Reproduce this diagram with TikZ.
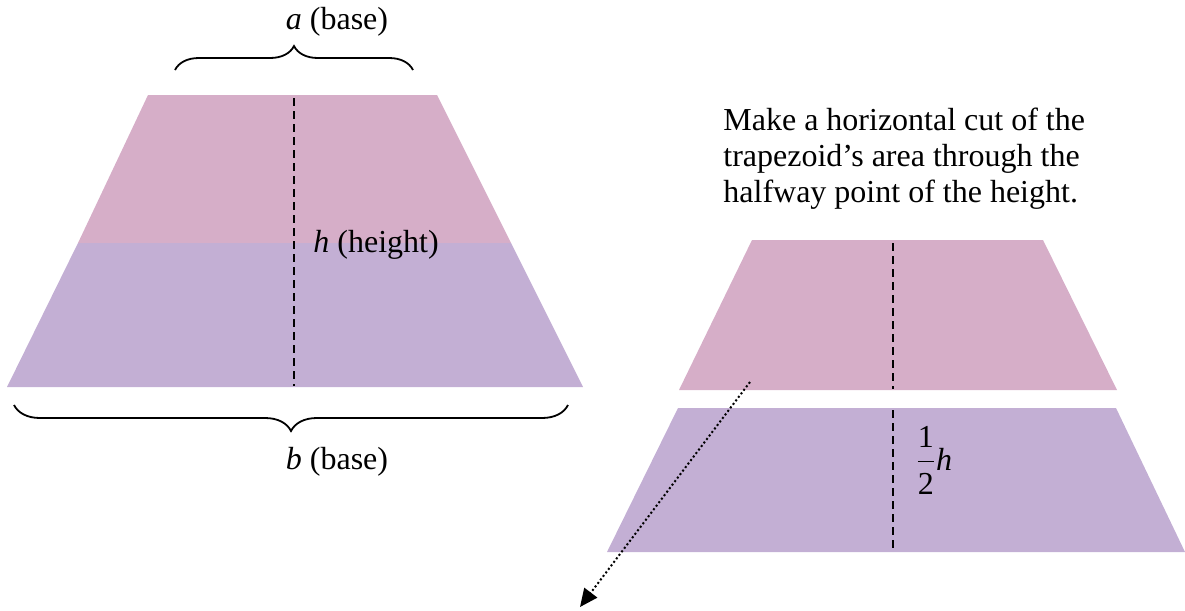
\documentclass[tikz,border=0pt]{standalone}
\usepackage{amsmath}
\usepackage{fontspec}
\setmainfont{Liberation Serif}
\usetikzlibrary{arrows.meta,decorations.pathreplacing}
\definecolor{pinkfill}{RGB}{214,174,200}
\definecolor{lilacfill}{RGB}{195,175,212}
\tikzset{
  tophalf/.style ={fill=pinkfill, draw=none},
  bothalf/.style ={fill=lilacfill, draw=none},
  midline/.style ={line width=1pt, dash pattern=on 4pt off 2.5pt},
  brc/.style     ={decorate, line width=0.9pt,
                   decoration={brace, amplitude=12pt}},
  brcdown/.style ={decorate, line width=0.9pt,
                   decoration={brace, amplitude=13pt, mirror}},
  lbl/.style     ={font=\fontsize{16}{17.8}\selectfont, inner sep=0pt},
  note/.style    ={font=\fontsize{16}{17.8}\selectfont, inner sep=0pt,
                   align=left, anchor=north west},
  move/.style    ={-{Triangle[length=9pt, width=8pt]}, line width=1pt,
                   dash pattern=on 1pt off 1.2pt},
}
\begin{document}
\begin{tikzpicture}[x=0.5pt, y=-0.5pt]
  \useasboundingbox (0,0) rectangle (1185,611);
  % whole trapezoid
  \fill[tophalf] (148,95) -- (437,95) -- (511,243) -- (78,243) -- cycle;
  \fill[bothalf] (78,243) -- (511,243) -- (583,387) -- (7,387) -- cycle;
  \draw[midline] (294,98) -- (294,386);
  \draw[brc] (175,70) -- (413,70);
  \draw[brcdown] (14,405) -- (568,405);
  \node[lbl] (la) at (337,22) {\textit{a} (base)};
  \node[lbl, anchor=west] (lh) at (313,245) {\textit{h} (height)};
  \node[lbl] (lb) at (337,462) {\textit{b} (base)};
  % the two pieces after the cut
  \node[note] (txt) at (723,108) {Make a horizontal cut of the\\
    trapezoid's area through the\\ halfway point of the height.};
  \fill[tophalf] (752,240) -- (1043,240) -- (1117,390) -- (679,390) -- cycle;
  \fill[bothalf] (678,408) -- (1116,408) -- (1185,552) -- (607,552) -- cycle;
  \draw[midline] (893,243) -- (893,389);
  \draw[midline] (893,410) -- (893,552);
  \node[lbl, anchor=west] (lhalf) at (915,460)
    {$\dfrac{\text{1}}{\text{2}}$\textit{h}};
  \coordinate (from) at (750,382);
  \coordinate (to) at (580,607);
  \draw[move] (from) -- (to);
\end{tikzpicture}
\end{document}
